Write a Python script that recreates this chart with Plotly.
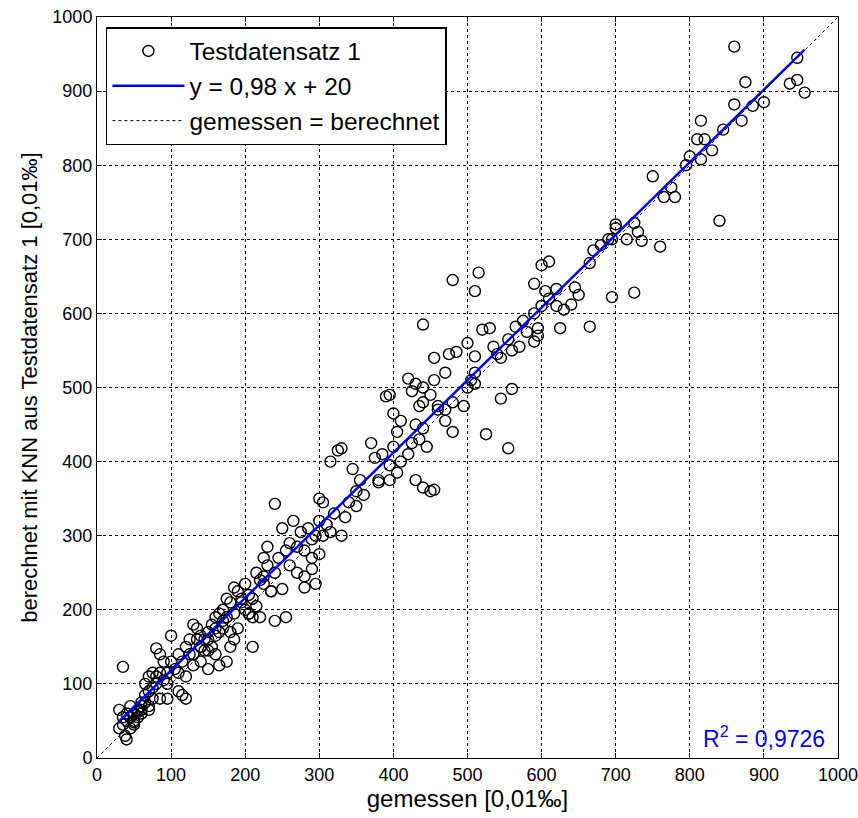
import plotly.graph_objects as go

# gemessen / berechnet
gemessen = [
    860, 945, 935, 945, 955, 875, 900, 885, 815, 845, 870, 860, 810, 820, 830, 815, 795, 800,
    750, 775, 765, 780, 840, 700, 700, 695, 725, 730, 715, 735, 760, 665, 670, 680, 690,
    725, 695, 665, 600, 610, 590, 605, 620, 610, 600, 645, 640, 630, 625,
    575, 565, 595, 595, 590, 555, 560, 545, 540, 535,
    480, 515, 510, 520, 530, 440, 500, 485, 475, 455, 510, 510, 505,
    470, 455, 440, 430, 450, 395, 390, 420, 425, 435, 440,
    460, 470, 480, 500, 510, 545, 560, 555, 525, 495, 480,
    440, 450, 430, 455, 400, 410, 405, 430, 440, 425, 435, 445, 420, 400, 410, 395, 380, 375, 385, 370,
    395, 405, 380, 330, 325, 345, 355, 340, 350, 315, 305, 300, 320, 330, 335,
    310, 300, 315, 305, 295, 290, 285, 300, 290, 280,
    240, 250, 260, 270, 265, 275, 255, 245, 260, 270, 280, 290, 295, 280,
    230, 225, 230, 215, 225, 220, 250, 255, 240, 210,
    200, 190, 185, 195, 210, 215, 200, 205, 210, 220,
    175, 180, 170, 165, 160, 175, 185, 155, 150, 140, 130, 135, 125, 145, 160, 165, 170, 180, 190,
    120, 125, 130, 110, 100, 115, 145, 150, 160, 150, 165, 175, 180, 185,
    100, 80, 85, 90, 95, 85, 80, 75, 70, 65, 75, 80, 90, 95,
    110, 115, 120, 95, 85, 65, 60, 55, 50, 45, 40, 30, 35, 45, 40, 35, 30, 38, 40, 45, 50, 55, 60, 70, 75, 70, 65,
    35, 120, 110, 105, 130, 140, 155,
    590, 620, 650, 570, 580, 460, 470, 350, 360, 240, 235, 205, 140, 60, 55, 50,
    195, 205, 225, 235, 170, 160, 150, 140, 135, 60, 70, 50,
]
berechnet = [
    960, 945, 910, 915, 898, 912, 885, 880, 860, 848, 860, 882, 835, 835, 820, 808, 800, 812,
    785, 770, 757, 757, 725, 720, 715, 700, 722, 710, 700, 698, 690, 668, 685, 692, 700,
    628, 622, 582, 665, 670, 640, 630, 633, 620, 610, 635, 612, 605, 580,
    590, 582, 580, 570, 562, 565, 550, 540, 545, 555,
    645, 655, 630, 578, 580, 585, 560, 548, 545, 540, 542, 520, 510,
    520, 510, 500, 505, 490, 490, 488, 512, 495, 475, 480,
    475, 470, 480, 500, 505, 485, 498, 418, 437, 475, 440,
    365, 360, 375, 362, 465, 455, 440, 450, 445, 425, 430, 420, 410, 420, 400, 375, 372, 405, 410, 425,
    395, 385, 375, 418, 415, 390, 375, 345, 360, 400, 345, 350, 330, 300, 325,
    315, 320, 305, 300, 300, 295, 310, 275, 270, 280,
    343, 310, 290, 285, 320, 305, 280, 270, 260, 250, 245, 255, 235, 230,
    285, 270, 260, 250, 245, 240, 228, 190, 185, 150,
    235, 225, 230, 215, 215, 205, 200, 195, 190, 190,
    215, 210, 200, 195, 190, 190, 195, 180, 170, 165, 180, 175, 160, 160, 165, 170, 175, 170, 175,
    150, 140, 140, 140, 130, 130, 145, 145, 140, 120, 125, 130, 150, 160,
    165, 148, 140, 130, 115, 115, 110, 115, 110, 100, 95, 100, 105, 100,
    90, 85, 80, 80, 80, 75, 70, 65, 60, 70, 60, 65, 55, 55, 50, 45, 40, 30, 25, 40, 50, 55, 60, 70, 80, 90, 85,
    123, 110, 115, 120, 125, 130, 150,
    600, 610, 625, 555, 575, 470, 455, 340, 355, 250, 225, 195, 150, 65, 62, 48,
    210, 220, 235, 225, 185, 175, 160, 150, 160, 75, 65, 45,
]

fit_slope = 0.98
fit_intercept = 20
r2_text = "R<sup>2</sup> = 0,9726"

fit_x = [min(gemessen), max(gemessen)]
fit_y = [fit_slope * v + fit_intercept for v in fit_x]

font = "Liberation Sans, Arial, sans-serif"

fig = go.Figure()
fig.add_trace(go.Scatter(
    x=gemessen, y=berechnet, mode="markers", name="Testdatensatz 1",
    marker=dict(symbol="circle-open", size=11, color="black", line=dict(width=1.4)),
))
fig.add_trace(go.Scatter(
    x=fit_x, y=fit_y, mode="lines", name="y = 0,98 x + 20",
    line=dict(color="#0000ff", width=2.5),
))
fig.add_trace(go.Scatter(
    x=[0, 1000], y=[0, 1000], mode="lines", name="gemessen = berechnet",
    line=dict(color="black", width=1, dash="dot"),
))

axis_style = dict(
    range=[0, 1000], dtick=100, tick0=0,
    showline=True, linecolor="black", linewidth=1, mirror="ticks",
    ticks="inside", ticklen=5, tickcolor="black",
    showgrid=True, gridcolor="black", gridwidth=1, griddash="dot",
    zeroline=False, automargin=False, ticklabeloverflow="allow",
    tickfont=dict(family=font, size=18, color="black"),
)
fig.update_xaxes(**axis_style, title=dict(text="gemessen [0,01‰]", font=dict(family=font, size=24, color="black"), standoff=4))
fig.update_yaxes(**axis_style, title=dict(text="berechnet mit KNN aus Testdatensatz 1 [0,01‰]", font=dict(family=font, size=22, color="black"), standoff=8))

fig.add_annotation(
    x=0.985, y=0.005, xref="paper", yref="paper", xanchor="right", yanchor="bottom",
    text=r2_text, showarrow=False, font=dict(family=font, size=23, color="#0000ff"),
)

fig.update_layout(
    width=858, height=818,
    margin=dict(l=97, r=20, t=17, b=60),
    plot_bgcolor="white", paper_bgcolor="white",
    showlegend=True,
    legend=dict(
        x=0.012, y=0.9865, xanchor="left", yanchor="top",
        bgcolor="white", bordercolor="black", borderwidth=1.5,
        font=dict(family=font, size=24.5, color="black"),
        tracegroupgap=0, itemwidth=72,
    ),
)

# drop the default 8px page margin so the figure fills the window
fig.write_html(
    "out.html",
    config={"displayModeBar": False},
    post_script="document.body.style.margin='0';document.body.style.overflow='hidden';",
)
